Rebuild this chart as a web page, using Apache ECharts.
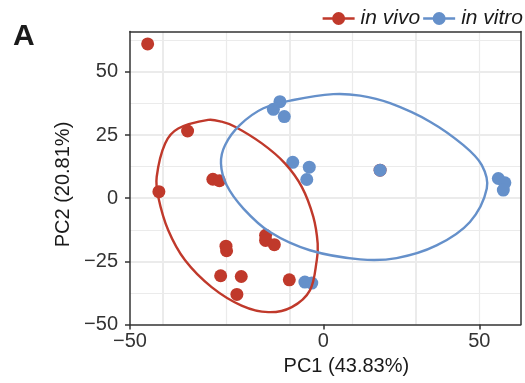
<!DOCTYPE html>
<html>
<head>
<meta charset="utf-8">
<script src="https://cdn.jsdelivr.net/npm/echarts@6/dist/echarts.min.js"></script>
<style>
  html, body { margin: 0; padding: 0; background: #fff; }
  #chart { width: 525px; height: 383px; }
</style>
</head>
<body>
<div id="chart"></div>
<script>
// ---- data ----
const seriesNames = ['in vivo', 'in vitro'];

const inVivoPoints = [
  [-56.3, 61.1], [-43.5, 26.6], [-52.7, 2.6], [-35.4, 7.5], [-33.3, 6.9],
  [-31.2, -19.0], [-31.0, -20.8], [-18.5, -14.7], [-18.5, -16.7], [-15.7, -18.4],
  [-32.9, -30.7], [-26.3, -31.0], [-27.7, -38.1], [-10.9, -32.3], [18.2, 11.1]
];
const inVitroPoints = [
  [-13.9, 38.2], [-16.0, 35.2], [-12.5, 32.3], [-9.8, 14.2], [-4.5, 12.3],
  [-5.3, 7.4], [18.2, 11.1], [56.1, 7.8], [58.2, 6.1], [57.7, 3.2],
  [-5.9, -33.2], [-3.7, -33.6]
];
// ellipse outlines
const inVivoEllipse = [
  [-36.9, 31.0], [-32.6, 30.3], [-28.3, 28.3], [-19.7, 21.7], [-12.3, 13.8],
  [-6.9, 4.5], [-3.2, -7.4], [-1.8, -18.0], [-2.1, -24.6], [-4.3, -36.5],
  [-10.1, -43.1], [-17.6, -45.1], [-26.2, -42.5], [-35.8, -35.2], [-44.3, -24.6],
  [-49.7, -12.7], [-52.9, 0.5], [-53.4, 8.5], [-50.7, 21.7], [-46.5, 27.6]
];
const inVitroEllipse = [
  [3.2, 41.2], [11.8, 40.6], [21.4, 37.6], [34.2, 30.3], [44.9, 21.0],
  [50.8, 13.1], [52.4, 3.8], [47.0, -9.4], [36.3, -18.7], [23.5, -23.7],
  [11.8, -24.2], [-4.3, -20.6], [-17.1, -13.4], [-25.6, -4.1], [-31.0, 5.2],
  [-32.8, 13.8], [-31.5, 21.0], [-26.7, 29.0], [-19.2, 35.6], [-9.6, 38.9]
];

const xTickLabels = [0, 50];
const xEdgeTickLabels = [-50];
const yTickLabels = [-50, -25, 0, 25, 50];
const xGridMajor = [-51.5, -10.9, 29.7];
const xGridMinor = [-31.2, 9.4, 50.0];
const yGridMajor = [-25, 0, 25, 50];
const yGridMinor = [-37.5, -12.5, 12.5, 37.5, 62.5];

const xTitle = 'PC1 (43.83%)';
const yTitle = 'PC2 (20.81%)';
const panelTag = 'A';

// ---- styling ----
const X_MIN = -61.96, X_MAX = 63.27;
const Y_MIN = -50, Y_MAX = 66;
const RED = '#C0392B';
const BLUE = '#6590CA';
const FONT = '"Liberation Sans", Arial, Helvetica, sans-serif';
const FRAME = '#333333';
const GRIDC = '#EBEBEB';
const LEGEND_ICON = 'path://M0,6.8L32,6.8L32,9.2L0,9.2Z M9.5,8a6.5,6.5 0 1,1 13,0a6.5,6.5 0 1,1 -13,0Z';

const fmt = v => (v < 0 ? '\u2212' + Math.abs(v) : String(v));

function gridAxis(pos, values, width, min, max) {
  return {
    type: 'value', position: pos, min: min, max: max, z: 0,
    axisLine: { show: false, onZero: false },
    axisTick: { show: false, customValues: values },
    axisLabel: { show: false, customValues: values },
    splitLine: { show: true, lineStyle: { color: GRIDC, width: width } }
  };
}
function frameAxis(pos, min, max) {
  return {
    type: 'value', position: pos, min: min, max: max, z: 1,
    axisLine: { show: true, onZero: false, lineStyle: { color: FRAME, width: 1.5 } },
    axisTick: { show: false },
    axisLabel: { show: false },
    splitLine: { show: false }
  };
}
function ellipseSeries(name, outline, color) {
  return {
    name: name, type: 'custom', coordinateSystem: 'cartesian2d', xAxisIndex: 2, yAxisIndex: 2,
    data: outline, z: 5, silent: true, itemStyle: { color: color },
    encode: { x: 0, y: 1 },
    renderItem: function (params, api) {
      if (params.dataIndex !== 0) return null;
      const pts = outline.map(p => api.coord(p));
      return {
        type: 'polygon',
        shape: { points: pts, smooth: 0.35 },
        style: { fill: 'none', stroke: color, lineWidth: 2.4 }
      };
    }
  };
}

const chart = echarts.init(document.getElementById('chart'), null, { renderer: 'canvas' });

chart.setOption({
  animation: false,
  backgroundColor: '#ffffff',
  title: {
    text: panelTag, left: 8, top: 17,
    textStyle: { fontSize: 30, fontWeight: 'bold', color: '#1a1a1a', fontFamily: FONT }
  },
  legend: {
    data: seriesNames.map(n => ({ name: n, icon: LEGEND_ICON })),
    right: 2, top: 8, padding: 0, itemWidth: 32, itemHeight: 16, itemGap: 3,
    textStyle: { fontSize: 21, fontStyle: 'italic', color: '#1a1a1a', fontFamily: FONT, padding: [0, 0, 0, 1] }
  },
  grid: { left: 130, right: 4.3, top: 31.5, bottom: 58.5, show: false },
  xAxis: [
    gridAxis('bottom', xGridMajor, 2, X_MIN, X_MAX),
    gridAxis('top', xGridMinor, 1.2, X_MIN, X_MAX),
    {
      type: 'value', position: 'bottom', min: X_MIN, max: X_MAX, z: 1,
      name: xTitle, nameLocation: 'middle', nameGap: 30,
      nameTextStyle: { fontSize: 20, color: '#1a1a1a', fontFamily: FONT, padding: [0, 0, 0, 42] },
      axisLine: { show: true, onZero: false, lineStyle: { color: FRAME, width: 1.5 } },
      axisTick: { show: true, length: 5, customValues: xTickLabels, lineStyle: { color: FRAME, width: 1.5 } },
      axisLabel: { show: true, customValues: xTickLabels, margin: 7, fontSize: 20, color: '#333', fontFamily: FONT, formatter: fmt },
      splitLine: { show: false }
    },
    {
      type: 'value', position: 'bottom', min: -50, max: 100, z: 1,
      axisLine: { show: false, onZero: false },
      axisTick: { show: true, length: 5, customValues: xEdgeTickLabels, lineStyle: { color: FRAME, width: 1.5 } },
      axisLabel: { show: true, customValues: xEdgeTickLabels, margin: 7, fontSize: 20, color: '#333', fontFamily: FONT, formatter: fmt },
      splitLine: { show: false }
    },
    frameAxis('top', X_MIN, X_MAX)
  ],
  yAxis: [
    gridAxis('left', yGridMajor, 2, Y_MIN, Y_MAX),
    gridAxis('right', yGridMinor, 1.2, Y_MIN, Y_MAX),
    {
      type: 'value', position: 'left', min: Y_MIN, max: Y_MAX, z: 1,
      name: yTitle, nameLocation: 'middle', nameGap: 52, nameRotate: 90,
      nameTextStyle: { fontSize: 20, color: '#1a1a1a', fontFamily: FONT, padding: [0, 13, 0, 0] },
      axisLine: { show: true, onZero: false, lineStyle: { color: FRAME, width: 1.5 } },
      axisTick: { show: true, length: 5, customValues: yTickLabels, lineStyle: { color: FRAME, width: 1.5 } },
      axisLabel: { show: true, customValues: yTickLabels, margin: 12, fontSize: 20, color: '#333', fontFamily: FONT, formatter: fmt },
      splitLine: { show: false }
    },
    frameAxis('right', Y_MIN, Y_MAX)
  ],
  series: [
    {
      name: seriesNames[0], type: 'scatter', xAxisIndex: 2, yAxisIndex: 2, data: inVivoPoints,
      symbol: 'circle', symbolSize: 13, z: 3, itemStyle: { color: RED, opacity: 1 }
    },
    {
      name: seriesNames[1], type: 'scatter', xAxisIndex: 2, yAxisIndex: 2, data: inVitroPoints,
      symbol: 'circle', symbolSize: 13, z: 4, itemStyle: { color: BLUE, opacity: 1 }
    },
    ellipseSeries(seriesNames[0], inVivoEllipse, RED),
    ellipseSeries(seriesNames[1], inVitroEllipse, BLUE)
  ]
});
</script>
</body>
</html>
